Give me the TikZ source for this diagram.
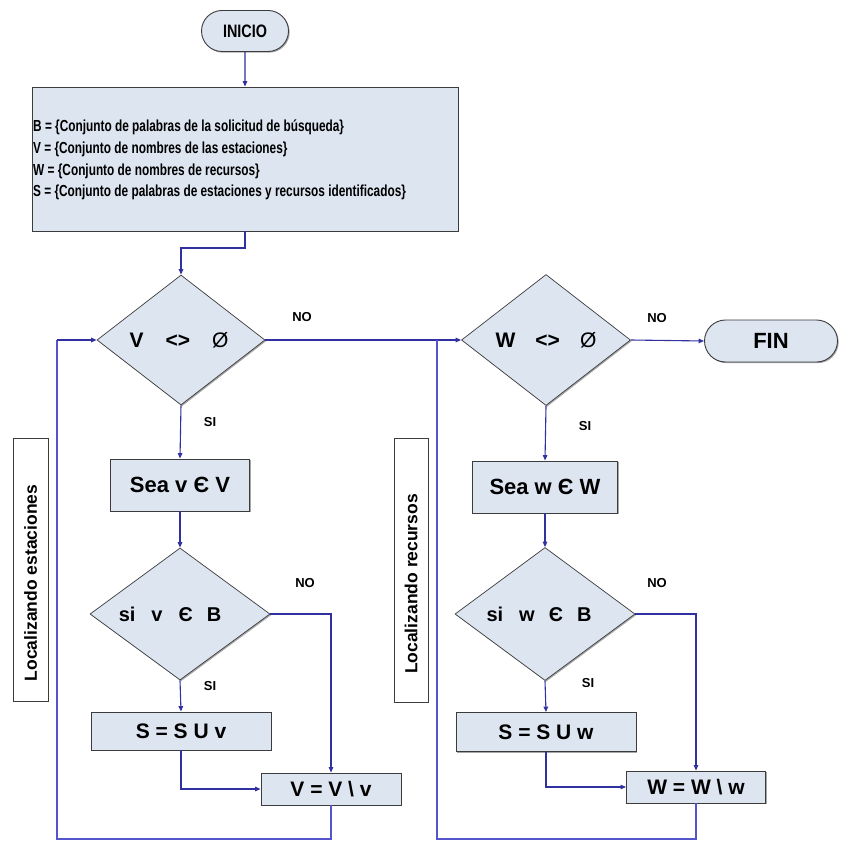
\documentclass[tikz,border=0pt]{standalone}
\usepackage{fontspec}
\setmainfont{Liberation Sans}
\newfontfamily\narrowfont[FakeStretch=0.8]{Liberation Sans}
\newfontfamily\listfont[FakeStretch=0.74]{Liberation Sans}
\usetikzlibrary{arrows.meta,shapes.geometric,shapes.misc,shadows}

\definecolor{boxfill}{RGB}{221,229,241}
\definecolor{boxline}{RGB}{60,60,60}
\definecolor{flow}{RGB}{48,48,160}
\definecolor{loopline}{RGB}{84,84,204}

\tikzset{
  fsz/.style={font=\fontsize{#1}{#1}\selectfont\bfseries},
  shade/.style={drop shadow={shadow xshift=1.2pt,shadow yshift=-1.2pt,opacity=0.35,fill=black}},
  procbox/.style={draw=boxline,line width=0.9pt,fill=boxfill,rectangle,inner sep=0pt,shade},
  decision/.style={draw=boxline,line width=0.7pt,fill=boxfill,diamond,inner sep=0pt,
    minimum width=#1,shade},
  terminal/.style={draw=boxline,line width=0.9pt,fill=boxfill,rounded rectangle,inner sep=0pt,shade},
  sidebox/.style={draw=boxline,line width=0.9pt,fill=white,rectangle,inner sep=0pt},
  tag/.style={fsz=13,text=black},
  conn/.style={draw=flow,line width=1.1pt},
  arr/.style={conn,-{Triangle[length=5.5pt,width=4.5pt]}},
  back/.style={draw=loopline,line width=1.8pt},
}

\begin{document}
\begin{tikzpicture}[x=1pt,y=-1pt]
\useasboundingbox (0,0) rectangle (840,842);

% start / end
\node[terminal,minimum width=87pt,minimum height=41pt,
      font=\fontsize{18}{18}\selectfont\narrowfont\bfseries] (inicio) at (245,31) {INICIO};
\node[terminal,minimum width=133pt,minimum height=42pt,fsz=22] (fin) at (771,341) {FIN};

% set definitions
\node[procbox,minimum width=426pt,minimum height=144pt] (defs) at (245,159) {};
\node[anchor=west,align=left,inner sep=0pt,
      font=\fontsize{16}{21.6}\selectfont\listfont\bfseries] (defstext) at (33,160)
  {B = \{Conjunto de palabras de la solicitud de búsqueda\}\\
   V = \{Conjunto de nombres de las estaciones\}\\
   W = \{Conjunto de nombres de recursos\}\\
   S = \{Conjunto de palabras de estaciones y recursos identificados\}};

% stations loop
\node[decision=168pt,minimum height=130pt] (d1) at (181,340) {};
\node[fsz=21,inner sep=0pt] (d1t) at (179,340) {V\hspace{22pt}<>\hspace{22pt}{\mdseries Ø}};
\node[procbox,minimum width=139pt,minimum height=52pt,fsz=22] (sv) at (180,485) {Sea v Є V};
\node[decision=180pt,minimum height=132pt] (d2) at (180,614) {};
\node[fsz=20,inner sep=0pt] (d2t) at (170,614) {si\hspace{16pt}v\hspace{16pt}Є\hspace{14pt}B};
\node[procbox,minimum width=180pt,minimum height=38pt,fsz=21] (suv) at (181,731) {S = S U v};
\node[procbox,minimum width=140pt,minimum height=32pt,fsz=21] (vv) at (331,789) {V = V \textbackslash\ v};

% resources loop
\node[decision=169pt,minimum height=131pt] (w1) at (546,340) {};
\node[fsz=21,inner sep=0pt] (w1t) at (546,340) {W\hspace{20pt}<>\hspace{20pt}{\mdseries Ø}};
\node[procbox,minimum width=145pt,minimum height=52pt,fsz=22] (sw) at (545,487) {Sea w Є W};
\node[decision=180pt,minimum height=133pt] (w2) at (545,614) {};
\node[fsz=20,inner sep=0pt] (w2t) at (539,614) {si\hspace{16pt}w\hspace{14pt}Є\hspace{14pt}B};
\node[procbox,minimum width=180pt,minimum height=39pt,fsz=21] (suw) at (546,732) {S = S U w};
\node[procbox,minimum width=139pt,minimum height=32pt,fsz=21] (ww) at (696,787) {W = W \textbackslash\ w};

% side captions
\node[sidebox,minimum width=35pt,minimum height=263pt] (capL) at (30.5,569.5) {};
\node[fsz=17.5,rotate=90,inner sep=0pt] (capLt) at (30.5,583) {Localizando estaciones};
\node[sidebox,minimum width=34pt,minimum height=264pt] (capR) at (411,570) {};
\node[fsz=17.5,rotate=90,inner sep=0pt] (capRt) at (411,584) {Localizando recursos};

% yes / no labels
\node[tag] (no1) at (302,317) {NO};
\node[tag] (si1) at (210,422) {SI};
\node[tag] (no2) at (305,583) {NO};
\node[tag] (si2) at (210,686) {SI};
\node[tag] (no3) at (657,318) {NO};
\node[tag] (si3) at (585,426) {SI};
\node[tag] (no4) at (657,583) {NO};
\node[tag] (si4) at (588,683) {SI};

% loop return corners
\coordinate (lbot) at (57,839);
\coordinate (lin) at (57,340);
\coordinate (rbot) at (437,839);
\coordinate (rin) at (437,340);
\coordinate (split) at (245,248);

% connectors
\draw[arr] (inicio) -- (defs);
\draw[arr] (defs.south) -- (split) -| (d1.north);
\draw[arr] (d1.south) -- (sv.north);
\draw[arr] (sv.south) -- (d2.north);
\draw[arr] (d2.south) -- (suv.north);
\draw[arr] (d2.east) -| (vv.north);
\draw[arr] (suv.south) |- (vv.west);
\draw[back] (vv.south) |- (lbot) -- (lin);
\draw[arr] (lin) -- (d1.west);

\draw[arr] (d1.east) -- (w1.west);
\draw[arr] (w1.east) -- (fin.west);
\draw[arr] (w1.south) -- (sw.north);
\draw[arr] (sw.south) -- (w2.north);
\draw[arr] (w2.south) -- (suw.north);
\draw[arr] (w2.east) -| (ww.north);
\draw[arr] (suw.south) |- (ww.west);
\draw[back] (ww.south) |- (rbot) -- (rin);
\end{tikzpicture}
\end{document}
